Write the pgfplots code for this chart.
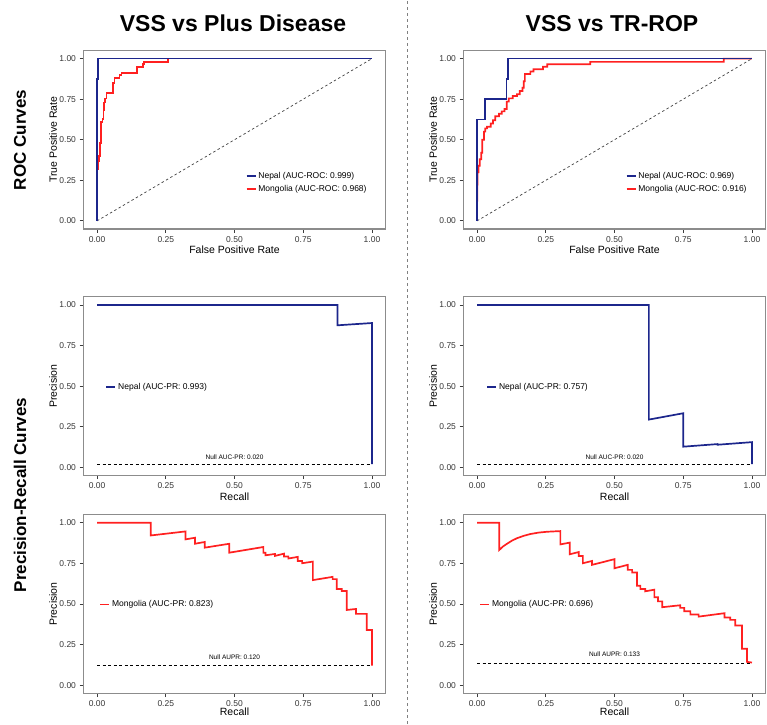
\documentclass[border=0pt]{standalone}
\usepackage{fontspec}
\setmainfont{Liberation Sans}
\usepackage{pgfplots}
\pgfplotsset{compat=1.18}
\definecolor{nepal}{RGB}{28,38,140}
\definecolor{mong}{RGB}{255,32,32}
\definecolor{framegray}{RGB}{140,140,140}
\definecolor{tickgray}{RGB}{60,60,60}
\definecolor{labelgray}{RGB}{55,55,55}
\pgfplotsset{
  panel/.style={
    scale only axis, width=302.4pt, height=178.5pt,
    xmin=-0.05, xmax=1.05, ymin=-0.05, ymax=1.05,
    xtick={0,0.25,0.5,0.75,1}, ytick={0,0.25,0.5,0.75,1},
    xticklabels={0.00,0.25,0.50,0.75,1.00},
    yticklabels={0.00,0.25,0.50,0.75,1.00},
    tick align=outside, tick pos=left, major tick length=3.8pt,
    every tick/.style={line width=0.8pt, color=tickgray},
    axis line style={line width=1.1pt, color=framegray},
    ticklabel style={font=\fontsize{8.5}{9.5}\selectfont, text=labelgray},
    /pgf/number format/assume math mode=true,
    every axis x label/.style={at={(axis description cs:0.5,-0.118)}, anchor=center, font=\fontsize{10.5}{12}\selectfont},
    every axis y label/.style={at={(axis description cs:-0.1,0.5)}, anchor=center, rotate=90, font=\fontsize{10.5}{12}\selectfont},
    legend image code/.code={\draw[#1] (0pt,0pt) -- (9pt,0pt);},
    legend cell align=left,
    clip=false,
  },
  cur/.style={line width=1.7pt, line join=miter},
}
\begin{document}
\begin{tikzpicture}[x=1pt,y=1pt]
\useasboundingbox (0,0) rectangle (767,724);
% titles
\node[font=\fontsize{23}{27}\selectfont\bfseries, anchor=base] at (233,692.3) {VSS vs Plus Disease};
\node[font=\fontsize{23}{27}\selectfont\bfseries, anchor=base] at (612,692.3) {VSS vs TR-ROP};
\node[font=\fontsize{17}{20}\selectfont\bfseries, rotate=90] at (20,584) {ROC Curves};
\node[font=\fontsize{17}{20}\selectfont\bfseries, rotate=90] at (20,229) {Precision-Recall Curves};
\draw[gray, line width=0.7pt, dash pattern=on 3pt off 3pt] (407,0) -- (407,724);

% ROC top-left
\begin{axis}[panel, at={(83.3pt,495pt)}, anchor=south west,
  xlabel={False Positive Rate}, ylabel={True Positive Rate},
  reverse legend,
  legend style={at={(axis cs:0.54,0.236)}, anchor=west, draw=none, fill=none, inner sep=0pt,
    font=\fontsize{8.5}{10}\selectfont, row sep=1pt}]
\addplot[forget plot, color=darkgray, line width=0.7pt, dash pattern=on 2.5pt off 2.5pt] coordinates {(0,0) (1,1)};
\addplot[cur, mong] coordinates {
(0.002,0.19) (0.002,0.32) (0.005,0.32) (0.005,0.37) (0.007,0.37) (0.007,0.40)
(0.010,0.40) (0.010,0.48) (0.015,0.48) (0.015,0.61) (0.020,0.61) (0.020,0.63)
(0.023,0.63) (0.023,0.68) (0.026,0.68) (0.026,0.73) (0.030,0.73) (0.030,0.755)
(0.034,0.755) (0.034,0.79) (0.058,0.79) (0.058,0.85) (0.064,0.85) (0.064,0.88)
(0.082,0.88) (0.082,0.90) (0.089,0.90) (0.089,0.91) (0.146,0.91) (0.146,0.95)
(0.168,0.95) (0.168,0.965) (0.172,0.965) (0.172,0.98) (0.259,0.98) (0.259,1.0) (1.0,1.0)};
\addlegendentry{Mongolia (AUC-ROC: 0.968)}
\addplot[cur, nepal] coordinates {(0,0) (0,0.875) (0.003,0.875) (0.003,1.0) (1,1)};
\addlegendentry{Nepal (AUC-ROC: 0.999)}
\end{axis}

% ROC top-right
\begin{axis}[panel, at={(463.3pt,495pt)}, anchor=south west,
  xlabel={False Positive Rate}, ylabel={True Positive Rate},
  reverse legend,
  legend style={at={(axis cs:0.54,0.236)}, anchor=west, draw=none, fill=none, inner sep=0pt,
    font=\fontsize{8.5}{10}\selectfont, row sep=1pt}]
\addplot[forget plot, color=darkgray, line width=0.7pt, dash pattern=on 2.5pt off 2.5pt] coordinates {(0,0) (1,1)};
\addplot[cur, mong] coordinates {
(0.000,0.08) (0.002,0.30) (0.005,0.30) (0.005,0.34) (0.010,0.34) (0.010,0.38)
(0.015,0.38) (0.015,0.42) (0.019,0.42) (0.019,0.50) (0.025,0.50) (0.025,0.55)
(0.030,0.55) (0.030,0.57) (0.036,0.57) (0.036,0.58) (0.050,0.58) (0.050,0.60)
(0.058,0.60) (0.058,0.62) (0.066,0.62) (0.066,0.645) (0.080,0.645) (0.080,0.66)
(0.090,0.66) (0.090,0.675) (0.100,0.675) (0.100,0.69) (0.108,0.69) (0.108,0.735)
(0.115,0.735) (0.115,0.755) (0.130,0.755) (0.130,0.77) (0.145,0.77) (0.145,0.78)
(0.155,0.78) (0.155,0.80) (0.165,0.80) (0.165,0.82) (0.170,0.82) (0.170,0.86)
(0.174,0.86) (0.174,0.905) (0.194,0.905) (0.194,0.92) (0.205,0.92) (0.205,0.935)
(0.240,0.935) (0.240,0.95) (0.255,0.95) (0.255,0.965) (0.412,0.965) (0.412,0.98)
(0.897,0.98) (0.897,1.0) (1.0,1.0)};
\addlegendentry{Mongolia (AUC-ROC: 0.916)}
\addplot[cur, nepal] coordinates {(0,0) (0,0.625) (0.030,0.625) (0.030,0.75) (0.107,0.75) (0.107,0.875) (0.112,0.875) (0.112,1.0) (1,1)};
\addlegendentry{Nepal (AUC-ROC: 0.969)}
\end{axis}

% PR middle-left
\begin{axis}[panel, at={(83.3pt,248.6pt)}, anchor=south west,
  xlabel={Recall}, ylabel={Precision},
  legend style={at={(axis cs:0.030,0.494)}, anchor=west, draw=none, fill=none, inner sep=0pt,
    font=\fontsize{8.5}{10}\selectfont}]
\addplot[cur, nepal] coordinates {(0,1) (0.875,1) (0.875,0.875) (1.0,0.889) (1.0,0.02)};
\addlegendentry{Nepal (AUC-PR: 0.993)}
\addplot[forget plot, black, line width=0.7pt, dash pattern=on 3pt off 2.5pt] coordinates {(0,0.02) (1,0.02)};
\node[font=\fontsize{6.5}{8}\selectfont] at (axis cs:0.5,0.065) {Null AUC-PR: 0.020};
\end{axis}

% PR middle-right
\begin{axis}[panel, at={(463.3pt,248.6pt)}, anchor=south west,
  xlabel={Recall}, ylabel={Precision},
  legend style={at={(axis cs:0.033,0.494)}, anchor=west, draw=none, fill=none, inner sep=0pt,
    font=\fontsize{8.5}{10}\selectfont}]
\addplot[cur, nepal] coordinates {(0,1) (0.625,1) (0.625,0.294) (0.75,0.333) (0.75,0.127) (0.875,0.143) (0.875,0.139) (1.0,0.155) (1.0,0.02)};
\addlegendentry{Nepal (AUC-PR: 0.757)}
\addplot[forget plot, black, line width=0.7pt, dash pattern=on 3pt off 2.5pt] coordinates {(0,0.02) (1,0.02)};
\node[font=\fontsize{6.5}{8}\selectfont] at (axis cs:0.5,0.065) {Null AUC-PR: 0.020};
\end{axis}

% PR bottom-left
\begin{axis}[panel, at={(83.3pt,30.8pt)}, anchor=south west,
  xlabel={Recall}, ylabel={Precision},
  every axis x label/.style={at={(axis description cs:0.5,-0.105)}, anchor=center, font=\fontsize{10.5}{12}\selectfont},
  legend style={at={(axis cs:0.008,0.496)}, anchor=west, draw=none, fill=none, inner sep=0pt,
    font=\fontsize{8.5}{10}\selectfont}]
\addplot[cur, mong] coordinates {
(0,1.0) (0.195,1.0) (0.195,0.922) (0.322,0.947) (0.322,0.898) (0.356,0.908) (0.356,0.871)
(0.392,0.882) (0.392,0.847) (0.481,0.871) (0.481,0.816) (0.605,0.851) (0.605,0.816)
(0.613,0.816) (0.613,0.800) (0.647,0.808) (0.647,0.796) (0.680,0.810) (0.680,0.792)
(0.696,0.792) (0.696,0.780) (0.730,0.790) (0.730,0.765) (0.746,0.765) (0.746,0.751)
(0.785,0.761) (0.785,0.647) (0.857,0.667) (0.857,0.653) (0.872,0.653) (0.872,0.592)
(0.890,0.592) (0.890,0.580) (0.908,0.580) (0.908,0.463) (0.942,0.469) (0.942,0.439)
(0.981,0.439) (0.981,0.340) (1.0,0.340) (1.0,0.12)};
\addlegendentry{Mongolia (AUC-PR: 0.823)}
\addplot[forget plot, black, line width=0.7pt, dash pattern=on 3pt off 2.5pt] coordinates {(0,0.12) (1,0.12)};
\node[font=\fontsize{6.5}{8}\selectfont] at (axis cs:0.5,0.173) {Null AUPR: 0.120};
\end{axis}

% PR bottom-right
\begin{axis}[panel, at={(463.3pt,30.8pt)}, anchor=south west,
  xlabel={Recall}, ylabel={Precision},
  every axis x label/.style={at={(axis description cs:0.5,-0.105)}, anchor=center, font=\fontsize{10.5}{12}\selectfont},
  legend style={at={(axis cs:0.008,0.496)}, anchor=west, draw=none, fill=none, inner sep=0pt,
    font=\fontsize{8.5}{10}\selectfont}]
\addplot[cur, mong] coordinates {
(0,1.0) (0.081,1.0) (0.081,0.833) (0.095,0.855) (0.109,0.871) (0.127,0.89) (0.145,0.905)
(0.170,0.920) (0.194,0.931) (0.225,0.940) (0.255,0.945) (0.303,0.949)
(0.303,0.867) (0.337,0.878) (0.337,0.806) (0.370,0.820) (0.370,0.796) (0.385,0.796)
(0.385,0.751) (0.418,0.765) (0.418,0.741) (0.500,0.776) (0.500,0.720) (0.548,0.741)
(0.548,0.710) (0.564,0.710) (0.564,0.694) (0.582,0.694) (0.582,0.612) (0.594,0.612)
(0.594,0.592) (0.612,0.592) (0.612,0.578) (0.645,0.588) (0.645,0.541) (0.658,0.541)
(0.658,0.516) (0.674,0.516) (0.674,0.480) (0.739,0.492) (0.739,0.476) (0.754,0.476)
(0.754,0.455) (0.776,0.455) (0.776,0.435) (0.806,0.435) (0.806,0.422) (0.900,0.443)
(0.900,0.416) (0.921,0.416) (0.921,0.402) (0.939,0.402) (0.939,0.367) (0.964,0.367)
(0.964,0.224) (0.982,0.224) (0.982,0.143) (1.0,0.139)};
\addlegendentry{Mongolia (AUC-PR: 0.696)}
\addplot[forget plot, black, line width=0.7pt, dash pattern=on 3pt off 2.5pt] coordinates {(0,0.133) (1,0.133)};
\node[font=\fontsize{6.5}{8}\selectfont] at (axis cs:0.5,0.188) {Null AUPR: 0.133};
\end{axis}
\end{tikzpicture}
\end{document}
